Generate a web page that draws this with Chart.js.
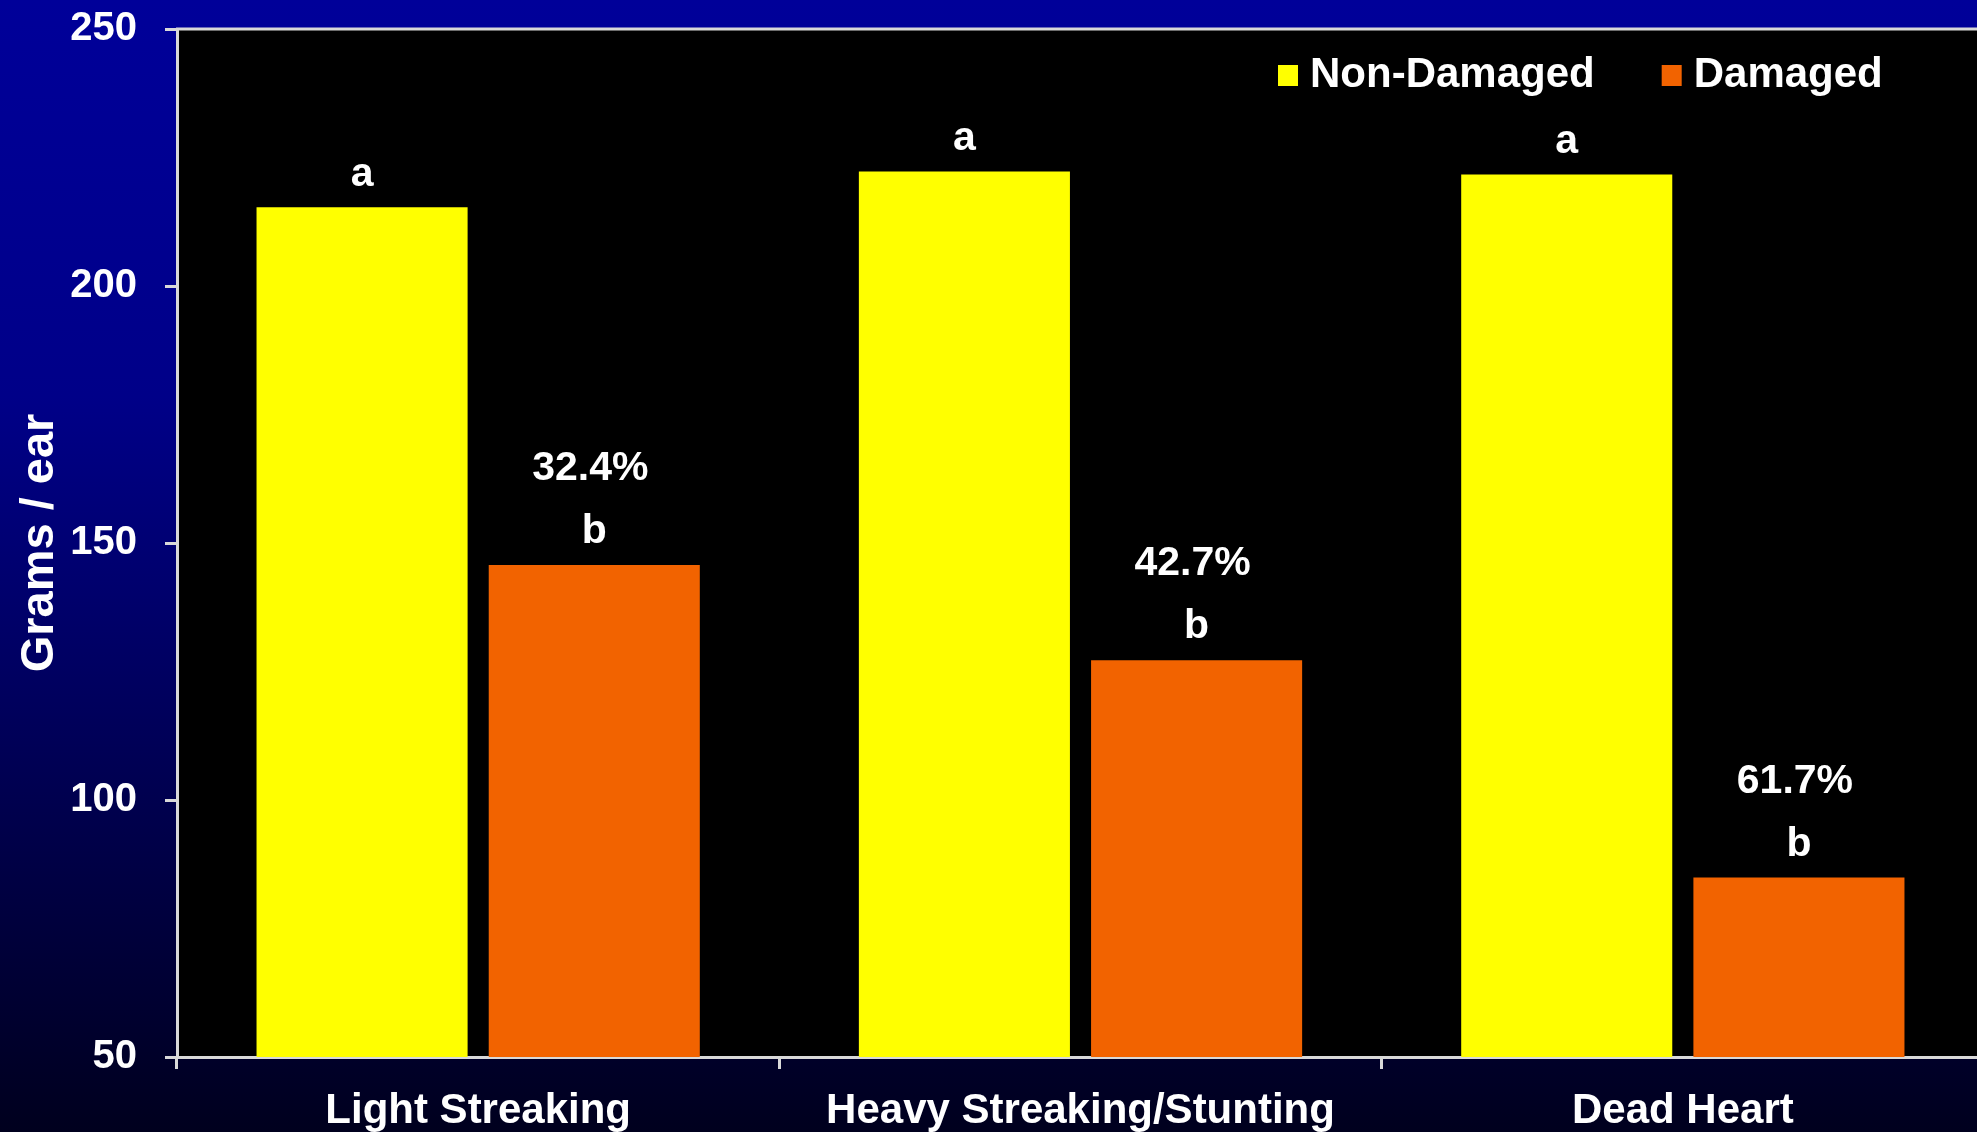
<!DOCTYPE html>
<html>
<head>
<meta charset="utf-8">
<script src="https://cdn.jsdelivr.net/npm/chart.js@4.4.1/dist/chart.umd.min.js"></script>
<style>
  html, body { margin: 0; padding: 0; overflow: hidden; }
  body {
    width: 1977px; height: 1132px;
    background: linear-gradient(to bottom, #000099 0%, #000088 35%, #000058 65%, #00001e 100%);
  }
  #wrap { position: absolute; left: 0; top: 0; }
</style>
</head>
<body>
<div id="wrap"><canvas id="canvas" width="1984" height="1132"></canvas></div>
<script>
const categories = ['Light Streaking', 'Heavy Streaking/Stunting', 'Dead Heart']
const nonDamaged = [215.3, 222.3, 221.7]
const damaged = [145.7, 127.2, 84.9]
const nonDamagedLetters = ['a', 'a', 'a']
const damagedLetters = ['b', 'b', 'b']
const lossLabels = ['32.4%', '42.7%', '61.7%']
const yTicks = [50, 100, 150, 200, 250]

const FONT = '"Liberation Sans", Arial, Helvetica, sans-serif'
const axisColor = '#d9d9d9'

// plot area: black fill + top border line
const plotArea = {
    id: 'plotArea',
    beforeDraw(chart) {
        const { ctx, chartArea: a } = chart
        ctx.save()
        ctx.fillStyle = '#000000'
        ctx.fillRect(a.left, a.top, a.right - a.left, a.bottom - a.top)
        ctx.restore()
    },
    afterDraw(chart) {
        const { ctx, chartArea: a } = chart
        ctx.save()
        ctx.strokeStyle = axisColor
        ctx.lineWidth = 3
        ctx.beginPath()
        ctx.moveTo(a.left - 1, a.top)
        ctx.lineTo(a.right + 2, a.top)
        ctx.stroke()
        ctx.restore()
    }
}

// letters and % loss above bars
const barLabels = {
    id: 'barLabels',
    afterDatasetsDraw(chart) {
        const { ctx } = chart
        ctx.save()
        ctx.fillStyle = '#ffffff'
        ctx.font = 'bold 41px ' + FONT
        ctx.textAlign = 'center'
        ctx.textBaseline = 'alphabetic'
        chart.getDatasetMeta(0).data.forEach((bar, i) => {
            ctx.fillText(nonDamagedLetters[i], bar.x, bar.y - 21)
        })
        chart.getDatasetMeta(1).data.forEach((bar, i) => {
            ctx.fillText(damagedLetters[i], bar.x, bar.y - 22)
            ctx.fillText(lossLabels[i], bar.x - 4, bar.y - 85)
        })
        ctx.restore()
    }
}

// legend inside the plot, top right
const insideLegend = {
    id: 'insideLegend',
    afterDraw(chart) {
        const { ctx, chartArea: a } = chart
        ctx.save()
        ctx.font = 'bold 42px ' + FONT
        ctx.textBaseline = 'middle'
        ctx.textAlign = 'left'
        let x = a.right - 706
        const y = a.top + 46
        chart.data.datasets.forEach(ds => {
            ctx.fillStyle = ds.backgroundColor
            ctx.fillRect(x, y - 10, 20, 21)
            ctx.fillStyle = '#ffffff'
            ctx.fillText(ds.label, x + 32, y)
            x += 32 + ctx.measureText(ds.label).width + 67
        })
        ctx.restore()
    }
}

const data = {
    labels: categories,
    datasets: [
        {
            label: 'Non-Damaged',
            backgroundColor: '#ffff00',
            data: nonDamaged,
            categoryPercentage: 0.771,
            barPercentage: 0.909,
        },
        {
            label: 'Damaged',
            backgroundColor: '#f26300',
            data: damaged,
            categoryPercentage: 0.771,
            barPercentage: 0.909,
        }
    ]
}

const config = {
    type: 'bar',
    data: data,
    options: {
        responsive: false,
        animation: false,
        devicePixelRatio: 1,
        layout: { padding: { top: 29, right: 0, left: 0, bottom: 0 } },
        plugins: {
            legend: { display: false },
            tooltip: { enabled: false },
        },
        scales: {
            x: {
                afterFit: scale => {
                    scale.height = 75
                    scale.paddingLeft = 0
                    scale.paddingRight = 0
                },
                grid: {
                    offset: true,
                    drawOnChartArea: false,
                    tickLength: 12,
                    tickColor: axisColor,
                    lineWidth: 3,
                },
                border: { color: axisColor, width: 3 },
                ticks: {
                    color: '#ffffff',
                    padding: 17,
                    font: { family: FONT, size: 42, weight: 'bold' },
                    maxRotation: 0,
                },
            },
            y: {
                min: 50,
                max: 250,
                afterFit: scale => {
                    scale.width = 177
                    scale.paddingTop = 0
                    scale.paddingBottom = 0
                },
                afterBuildTicks: scale => { scale.ticks = yTicks.map(v => ({ value: v })) },
                grid: {
                    drawOnChartArea: false,
                    tickLength: 12,
                    tickColor: axisColor,
                    lineWidth: 3,
                },
                border: { color: axisColor, width: 3 },
                ticks: {
                    color: '#ffffff',
                    padding: 28,
                    font: { family: FONT, size: 40, weight: 'bold' },
                },
                title: {
                    display: true,
                    text: 'Grams / ear',
                    color: '#ffffff',
                    padding: { top: 12, bottom: 0 },
                    font: { family: FONT, size: 47, weight: 'bold' },
                },
            },
        },
    },
    plugins: [plotArea, barLabels, insideLegend],
}

const canvas = document.getElementById('canvas')
const chart = new Chart(canvas, config)
</script>
</body>
</html>
